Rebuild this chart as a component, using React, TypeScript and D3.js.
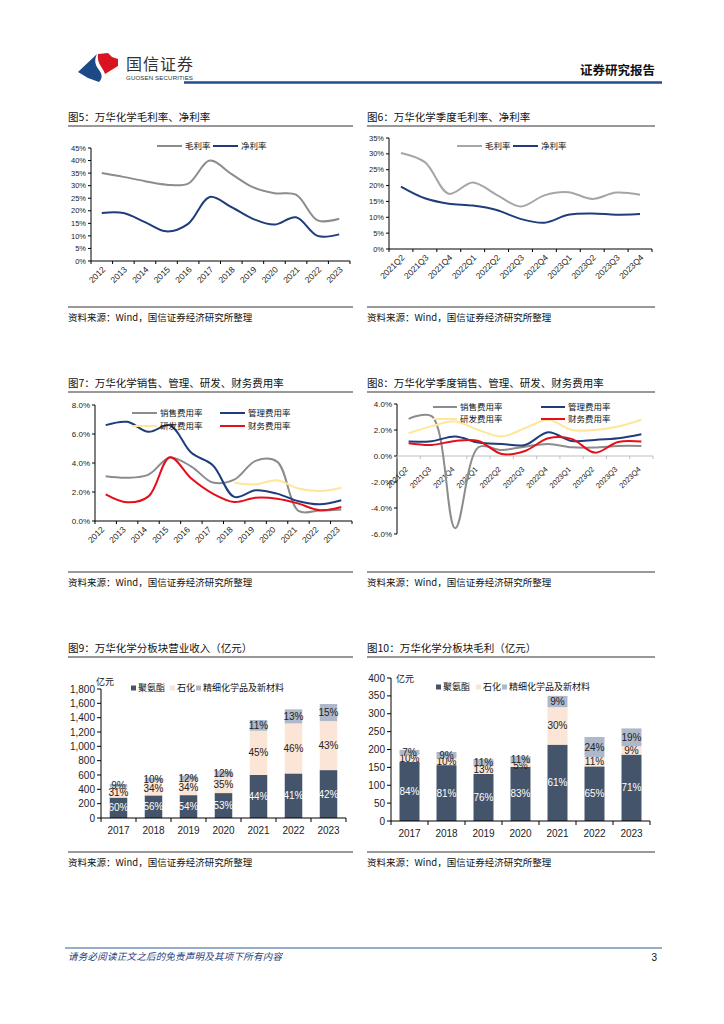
import * as d3 from 'd3'

const CN = '"Noto Sans CJK SC", "Noto Sans", sans-serif'
const NUM = '"Liberation Sans", Arial, sans-serif'

// 图5 年度毛利率、净利率
const years = ['2012', '2013', '2014', '2015', '2016', '2017', '2018', '2019', '2020', '2021', '2022', '2023']
const grossMargin = [35.0, 33.5, 31.8, 30.4, 30.8, 40.0, 34.7, 29.4, 27.0, 26.4, 16.2, 16.8]
const netMargin = [19.1, 19.1, 15.5, 11.8, 14.8, 25.5, 21.5, 16.8, 14.5, 17.4, 10.0, 10.6]

// 图6 季度毛利率、净利率
const quarters = ['2021Q2', '2021Q3', '2021Q4', '2022Q1', '2022Q2', '2022Q3', '2022Q4', '2023Q1', '2023Q2', '2023Q3', '2023Q4']
const grossMarginQ = [30.3, 27.4, 17.4, 21.0, 17.1, 13.4, 16.9, 17.9, 15.8, 17.8, 17.1]
const netMarginQ = [19.7, 16.0, 14.3, 13.7, 12.3, 9.5, 8.3, 10.8, 11.2, 10.8, 11.0]

// 图7 年度费用率
const salesRate = [3.08, 2.98, 3.2, 4.38, 3.75, 2.65, 2.85, 4.15, 4.1, 0.7, 0.72, 0.8]
const adminRate = [6.61, 6.84, 6.15, 6.6, 4.7, 3.85, 1.66, 2.12, 1.89, 1.36, 1.15, 1.43]
const rndRate = [null, null, null, null, null, null, 2.63, 2.53, 2.81, 2.24, 2.07, 2.3]
const financeRate = [1.84, 1.29, 1.7, 4.4, 2.93, 1.89, 1.31, 1.61, 1.54, 1.2, 0.74, 0.97]

// 图8 季度费用率
const salesRateQ = [2.86, 3.05, -5.55, 0.67, 0.46, 0.72, 0.93, 0.67, 0.65, 0.77, 0.77]
const adminRateQ = [1.11, 1.14, 1.5, 1.03, 0.93, 0.85, 1.83, 1.16, 1.24, 1.37, 1.68]
const rndRateQ = [1.75, 2.3, 2.66, 2.0, 1.5, 2.14, 2.79, 2.0, 2.0, 2.27, 2.79]
const financeRateQ = [0.98, 0.85, 1.16, 1.16, 0.15, 0.39, 1.37, 1.32, 0.26, 1.08, 1.11]

// 图9 / 图10 分板块
const barYears = ['2017', '2018', '2019', '2020', '2021', '2022', '2023']
const segNames = ['聚氨酯', '石化', '精细化学品及新材料']
const revenueTotal = [474, 563, 591, 656, 1367, 1516, 1591]
const revenueShare = [
  [60, 56, 54, 53, 44, 41, 42],
  [31, 34, 34, 35, 45, 46, 43],
  [9, 10, 12, 12, 11, 13, 15],
]
const profitTotal = [199, 193, 173, 181, 350, 235, 259]
const profitShare = [
  [84, 81, 76, 83, 61, 65, 71],
  [10, 10, 13, 5, 30, 11, 9],
  [7, 9, 11, 11, 9, 24, 19],
]

const GRAY = '#8c8c8c'
const LGRAY = '#a6a6a6'
const NAVY = '#1f3d7a'
const RED = '#e3101c'
const YELLOW = '#ffe699'
const segColors = ['#44546a', '#fbe5d6', '#adb9ca']

type Series = { name: string; color: string; values: (number | null)[] }
type LegendItem = { s: number; x: number; y: number }

function Frame({ x0, x1, title, titleY, sourceY }: { x0: number; x1: number; title: string; titleY: number; sourceY: number }) {
  return (
    <g>
      <text x={x0} y={titleY} fontFamily={CN} fontSize={10.5} fill="#111">{title}</text>
      <line x1={x0} x2={x1} y1={titleY + 5} y2={titleY + 5} stroke="#333" strokeWidth={1} />
      <line x1={x0} x2={x1} y1={sourceY - 14} y2={sourceY - 14} stroke="#777" strokeWidth={1.5} />
      <text x={x0} y={sourceY} fontFamily={CN} fontSize={9.5} fill="#111">资料来源：Wind，国信证券经济研究所整理</text>
    </g>
  )
}

function LineChart(p: {
  cats: string[]; series: Series[]; x0: number; x1: number; yTop: number; yBot: number
  domain: [number, number]; step: number; fmt: (v: number) => string
  labelSize: number; labelDx: number; labelDy: number; zeroGray?: boolean
  legend: LegendItem[]; lineLen: number; tickFont: number
}) {
  const x = d3.scaleBand().domain(p.cats).range([p.x0, p.x1])
  const y = d3.scaleLinear().domain(p.domain).range([p.yBot, p.yTop])
  const ticks = d3.range(p.domain[0], p.domain[1] + p.step / 2, p.step)
  const axisY = y(Math.max(0, p.domain[0]))
  const bw = x.bandwidth()
  const line = d3
    .line<number | null>()
    .defined(v => v != null)
    .x((_, i) => (x(p.cats[i]) as number) + bw / 2)
    .y(v => y(v as number))
    .curve(d3.curveCatmullRom.alpha(0.5))
  const xColor = p.zeroGray ? '#bfbfbf' : '#000'
  return (
    <g>
      {ticks.map(t => (
        <g key={t}>
          <line x1={p.x0 - 3} x2={p.x0} y1={y(t)} y2={y(t)} stroke="#000" />
          <text x={p.x0 - 5} y={y(t)} dy="0.35em" textAnchor="end" fontFamily={NUM} fontSize={p.tickFont} fill="#222">{p.fmt(t)}</text>
        </g>
      ))}
      <line x1={p.x0} x2={p.x0} y1={p.yTop} y2={p.yBot} stroke="#000" />
      <line x1={p.x0} x2={p.x1} y1={axisY} y2={axisY} stroke={xColor} />
      {d3.range(p.cats.length + 1).map(i => (
        <line key={i} x1={p.x0 + i * bw} x2={p.x0 + i * bw} y1={axisY} y2={axisY + 3} stroke={xColor} />
      ))}
      {p.cats.map(c => {
        const cx = (x(c) as number) + bw / 2
        return (
          <text key={c} transform={`translate(${cx + p.labelDx},${axisY + p.labelDy}) rotate(-45)`} dy="0.35em" textAnchor="end" fontFamily={NUM} fontSize={p.labelSize} fill="#222">{c}</text>
        )
      })}
      {p.series.map(s => (
        <path key={s.name} d={line(s.values) || ''} fill="none" stroke={s.color} strokeWidth={2} />
      ))}
      {p.legend.map(l => (
        <g key={l.s}>
          <line x1={l.x} x2={l.x + p.lineLen} y1={l.y} y2={l.y} stroke={p.series[l.s].color} strokeWidth={2} />
          <text x={l.x + p.lineLen + 3} y={l.y} dy="0.35em" fontFamily={CN} fontSize={8.5} fill="#111">{p.series[l.s].name}</text>
        </g>
      ))}
    </g>
  )
}

function BarChart(p: {
  totals: number[]; shares: number[][]; x0: number; x1: number; yTop: number; yBot: number
  max: number; step: number; fmt: (v: number) => string; ratio: number
  unitX: number; unitY: number; legendX: number[]; legendY: number
}) {
  const x = d3.scaleBand().domain(barYears).range([p.x0, p.x1])
  const y = d3.scaleLinear().domain([0, p.max]).range([p.yBot, p.yTop])
  const bw = x.bandwidth()
  const barW = bw * p.ratio
  const ticks = d3.range(0, p.max + p.step / 2, p.step)
  return (
    <g>
      {ticks.map(t => (
        <g key={t}>
          <line x1={p.x0 - 4} x2={p.x0} y1={y(t)} y2={y(t)} stroke="#000" />
          <text x={p.x0 - 6} y={y(t)} dy="0.35em" textAnchor="end" fontFamily={NUM} fontSize={10} fill="#222">{p.fmt(t)}</text>
        </g>
      ))}
      {barYears.map((yr, i) => {
        const sum = d3.sum(p.shares, s => s[i])
        let acc = 0
        const cx = (x(yr) as number) + bw / 2
        return (
          <g key={yr}>
            {p.shares.map((s, k) => {
              const v = (p.totals[i] * s[i]) / sum
              const y0 = y(acc)
              const y1 = y(acc + v)
              acc += v
              return (
                <g key={k}>
                  <rect x={cx - barW / 2} y={y1} width={barW} height={y0 - y1} fill={segColors[k]} />
                  <text x={cx} y={(y0 + y1) / 2} dy="0.35em" textAnchor="middle" fontFamily={NUM} fontSize={10} fill={k === 0 ? '#fff' : '#222'}>{s[i]}%</text>
                </g>
              )
            })}
            <text x={cx} y={p.yBot + 16} textAnchor="middle" fontFamily={NUM} fontSize={10} fill="#222">{yr}</text>
          </g>
        )
      })}
      <line x1={p.x0} x2={p.x0} y1={p.yTop} y2={p.yBot} stroke="#000" />
      <line x1={p.x0} x2={p.x1} y1={p.yBot} y2={p.yBot} stroke="#000" />
      {d3.range(barYears.length + 1).map(i => (
        <line key={i} x1={p.x0 + i * bw} x2={p.x0 + i * bw} y1={p.yBot} y2={p.yBot + 4} stroke="#000" />
      ))}
      <text x={p.unitX} y={p.unitY} dy="0.35em" fontFamily={CN} fontSize={9} fill="#111">亿元</text>
      {segNames.map((n, k) => (
        <g key={n}>
          <rect x={p.legendX[k]} y={p.legendY - 2.5} width={5} height={5} fill={segColors[k]} />
          <text x={p.legendX[k] + 7} y={p.legendY} dy="0.35em" fontFamily={CN} fontSize={9} fill="#111">{n}</text>
        </g>
      ))}
    </g>
  )
}

const pct0 = (v: number) => `${v}%`
const pct1 = (v: number) => `${v.toFixed(1)}%`

export default function App() {
  const s5: Series[] = [
    { name: '毛利率', color: GRAY, values: grossMargin },
    { name: '净利率', color: NAVY, values: netMargin },
  ]
  const s6: Series[] = [
    { name: '毛利率', color: LGRAY, values: grossMarginQ },
    { name: '净利率', color: NAVY, values: netMarginQ },
  ]
  const s7: Series[] = [
    { name: '销售费用率', color: GRAY, values: salesRate },
    { name: '管理费用率', color: NAVY, values: adminRate },
    { name: '研发费用率', color: YELLOW, values: rndRate },
    { name: '财务费用率', color: RED, values: financeRate },
  ]
  const s8: Series[] = [
    { name: '销售费用率', color: GRAY, values: salesRateQ },
    { name: '管理费用率', color: NAVY, values: adminRateQ },
    { name: '研发费用率', color: YELLOW, values: rndRateQ },
    { name: '财务费用率', color: RED, values: financeRateQ },
  ]
  return (
    <svg width={724} height={1024} style={{ position: 'absolute', left: 0, top: 0, background: '#fff' }}>
      <rect width={724} height={1024} fill="#fff" />
      {/* header */}
      <path d="M78,72 L97,54 C94,60 95,65 99,70 C102,74 103,78 99,82 L88,78 Z" fill="#1c4a86" />
      <path d="M98,54 L108,53 L112,57 L118,59 L118,66 L105,74 C104,70 101,67 99.5,64 C98,61 97.5,57 98,54 Z" fill="#d7141f" />
      <text x={126} y={69.5} fontFamily={CN} fontSize={16} fill="#333" textLength={67}>国信证券</text>
      <text x={126} y={80} fontFamily={NUM} fontSize={6.2} fill="#333" textLength={67}>GUOSEN SECURITIES</text>
      <text x={655} y={75} textAnchor="end" fontFamily={CN} fontSize={12.5} fontWeight={700} fill="#111">证券研究报告</text>
      <line x1={184} x2={662} y1={82.5} y2={82.5} stroke="#1e4f8c" strokeWidth={2.5} />

      <Frame x0={68} x1={353} title="图5：万华化学毛利率、净利率" titleY={121} sourceY={321} />
      <Frame x0={367} x1={655} title="图6：万华化学季度毛利率、净利率" titleY={121} sourceY={321} />
      <Frame x0={68} x1={353} title="图7：万华化学销售、管理、研发、财务费用率" titleY={387} sourceY={586} />
      <Frame x0={367} x1={655} title="图8：万华化学季度销售、管理、研发、财务费用率" titleY={387} sourceY={586} />
      <Frame x0={68} x1={353} title="图9：万华化学分板块营业收入（亿元）" titleY={652} sourceY={866} />
      <Frame x0={367} x1={655} title="图10：万华化学分板块毛利（亿元）" titleY={652} sourceY={866} />

      <LineChart cats={years} series={s5} x0={91} x1={350} yTop={148} yBot={261} domain={[0, 45]} step={5} fmt={pct0}
        labelSize={8.5} labelDx={2} labelDy={7} tickFont={7.5} lineLen={25}
        legend={[{ s: 0, x: 157, y: 146 }, { s: 1, x: 213, y: 146 }]} />
      <LineChart cats={quarters} series={s6} x0={389} x1={652} yTop={138} yBot={249} domain={[0, 35]} step={5} fmt={pct0}
        labelSize={8.5} labelDx={2} labelDy={7} tickFont={7.5} lineLen={25}
        legend={[{ s: 0, x: 457, y: 146 }, { s: 1, x: 513, y: 146 }]} />
      <LineChart cats={years} series={s7} x0={95} x1={352} yTop={405} yBot={521} domain={[0, 8]} step={2} fmt={pct1}
        labelSize={8.5} labelDx={-3} labelDy={7} tickFont={8} lineLen={25}
        legend={[{ s: 0, x: 132, y: 413 }, { s: 1, x: 220, y: 413 }, { s: 2, x: 132, y: 426 }, { s: 3, x: 220, y: 426 }]} />
      <LineChart cats={quarters} series={s8} x0={397} x1={653} yTop={404} yBot={534} domain={[-6, 4]} step={2} fmt={pct1}
        labelSize={7.5} labelDx={-2} labelDy={12} tickFont={8} lineLen={24} zeroGray
        legend={[{ s: 0, x: 433, y: 407 }, { s: 1, x: 541, y: 407 }, { s: 2, x: 433, y: 419 }, { s: 3, x: 541, y: 419 }]} />

      <BarChart totals={revenueTotal} shares={revenueShare} x0={101} x1={346} yTop={689} yBot={818} max={1800} step={200}
        fmt={d3.format(',')} ratio={0.5} unitX={96} unitY={682} legendX={[131, 170, 196]} legendY={688} />
      <BarChart totals={profitTotal} shares={profitShare} x0={391} x1={650} yTop={678} yBot={821} max={400} step={50}
        fmt={d3.format('d')} ratio={0.54} unitX={396} unitY={679} legendX={[436, 476, 502]} legendY={687} />

      {/* footer */}
      <line x1={65} x2={662} y1={948} y2={948} stroke="#2e5c99" strokeWidth={1} />
      <text x={68} y={960} fontFamily={CN} fontSize={9.5} fontStyle="italic" fill="#1f3f7f" textLength={214}>请务必阅读正文之后的免责声明及其项下所有内容</text>
      <text x={657} y={961} textAnchor="end" fontFamily={NUM} fontSize={10} fill="#111">3</text>
    </svg>
  )
}
